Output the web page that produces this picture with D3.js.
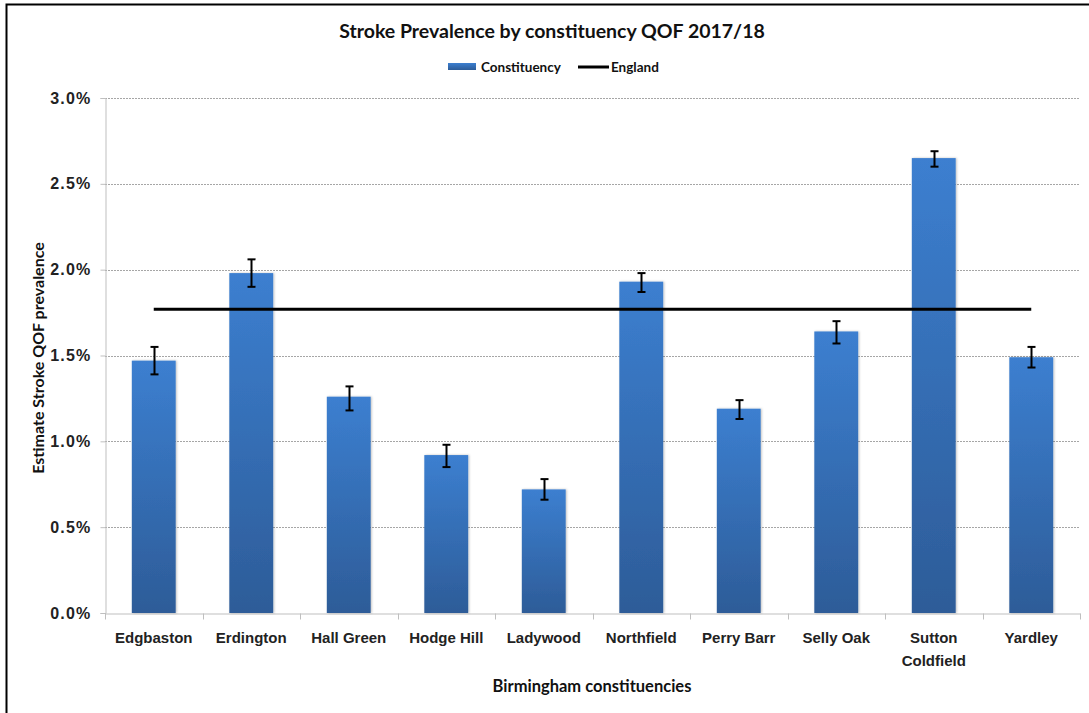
<!DOCTYPE html>
<html>
<head>
<meta charset="utf-8">
<script src="https://cdn.jsdelivr.net/npm/d3@7"></script>
<style>
  body { margin: 0; background: #fff; }
  svg { font-family: Lato, "Open Sans", sans-serif; font-weight: bold; }
</style>
</head>
<body>
<svg id="chart" width="1089" height="713"></svg>
<script>
// Chart data
const constituencies = ["Edgbaston", "Erdington", "Hall Green", "Hodge Hill", "Ladywood",
  "Northfield", "Perry Barr", "Selly Oak", "Sutton Coldfield", "Yardley"];
const prevalence = [1.47, 1.98, 1.26, 0.92, 0.72, 1.93, 1.19, 1.64, 2.65, 1.49];
const lowerCI = [1.39, 1.90, 1.18, 0.85, 0.66, 1.87, 1.13, 1.57, 2.60, 1.43];
const upperCI = [1.55, 2.06, 1.32, 0.98, 0.78, 1.98, 1.24, 1.70, 2.69, 1.55];
const englandValue = 1.77;
const yTicks = [0, 0.5, 1.0, 1.5, 2.0, 2.5, 3.0];

const svg = d3.select("#chart");

// Outer border
svg.append("rect")
  .attr("x", 6.5).attr("y", 4.5)
  .attr("width", 1100).attr("height", 720)
  .attr("fill", "none")
  .attr("stroke", "#000")
  .attr("stroke-width", 2);

const margin = { top: 98, right: 9, bottom: 100, left: 105 };
const width = 1089 - margin.left - margin.right;
const height = 713 - margin.top - margin.bottom;

const g = svg.append("g")
  .attr("transform", `translate(${margin.left}, ${margin.top})`);

// Scales
const xScale = d3.scaleBand()
  .domain(constituencies)
  .range([0, width])
  .paddingInner(0.55)
  .paddingOuter(0.275);

const xBand = d3.scaleBand()
  .domain(constituencies)
  .range([0, width]);

const yScale = d3.scaleLinear()
  .domain([0, 3.0])
  .range([height, 0]);

// Gradient for bars
const defs = svg.append("defs");
const grad = defs.append("linearGradient")
  .attr("id", "barGrad")
  .attr("x1", 0).attr("y1", 0).attr("x2", 0).attr("y2", 1);
grad.append("stop").attr("offset", "0%").attr("stop-color", "#3c7fd0");
grad.append("stop").attr("offset", "100%").attr("stop-color", "#2d5c98");

const shadow = defs.append("filter").attr("id", "shadow")
  .attr("x", "-20%").attr("y", "-5%").attr("width", "140%").attr("height", "110%");
shadow.append("feDropShadow")
  .attr("dx", 1).attr("dy", 0).attr("stdDeviation", 1)
  .attr("flood-color", "#000").attr("flood-opacity", 0.25);

// Gridlines
g.append("g")
  .selectAll("line")
  .data(yTicks.filter((d) => d > 0))
  .enter()
  .append("line")
  .attr("x1", 0).attr("x2", width)
  .attr("y1", (d) => Math.round(yScale(d)) + 0.5)
  .attr("y2", (d) => Math.round(yScale(d)) + 0.5)
  .attr("stroke", "#a6a6a6")
  .attr("stroke-dasharray", "2,1");

// Y axis
const yAxis = g.append("g")
  .attr("transform", "translate(0.5,0)")
  .call(d3.axisLeft(yScale)
    .tickValues(yTicks)
    .tickSize(5)
    .tickPadding(9)
    .tickFormat((d) => d.toFixed(1) + "%"));
yAxis.select(".domain").attr("stroke", "#bfbfbf");
yAxis.selectAll(".tick line").attr("stroke", "#bfbfbf");
yAxis.selectAll("text")
  .attr("fill", "#222")
  .style("font-size", "16px")
  .style("letter-spacing", "1.2px")
  .style("font-weight", "bold");

// X axis
const xAxis = g.append("g")
  .attr("transform", `translate(0, ${height + 0.5})`)
  .call(d3.axisBottom(xBand).tickSize(0).tickPadding(19));
xAxis.select(".domain").attr("stroke", "#bfbfbf");
xAxis.selectAll("text")
  .attr("fill", "#222")
  .style("font-size", "15px")
  .style("font-weight", "bold")
  .each(function (d) {
    const words = d.split(" ");
    if (d === "Sutton Coldfield") {
      const t = d3.select(this);
      t.text(null);
      words.forEach((w, i) => {
        t.append("tspan").attr("x", 0).attr("dy", i === 0 ? "0.71em" : "1.5em").text(w);
      });
    }
  });

// Category separator ticks
xAxis.append("g")
  .selectAll("line")
  .data(constituencies.concat(["end"]))
  .enter()
  .append("line")
  .attr("x1", (d, i) => Math.round(i * xBand.bandwidth()) + 0.5)
  .attr("x2", (d, i) => Math.round(i * xBand.bandwidth()) + 0.5)
  .attr("y1", 0).attr("y2", 6)
  .attr("stroke", "#bfbfbf");

// Bars
g.selectAll(".bar")
  .data(constituencies)
  .enter()
  .append("rect")
  .attr("class", "bar")
  .attr("x", (d) => xScale(d))
  .attr("y", (d, i) => yScale(prevalence[i]))
  .attr("width", xScale.bandwidth())
  .attr("height", (d, i) => height - yScale(prevalence[i]))
  .attr("fill", "url(#barGrad)")
  .attr("filter", "url(#shadow)");

// Error bars
const errG = g.append("g").attr("stroke", "#000").attr("stroke-width", 2);
constituencies.forEach((d, i) => {
  const cx = Math.round(xScale(d) + xScale.bandwidth() / 2) + 0.5;
  errG.append("line")
    .attr("x1", cx).attr("x2", cx)
    .attr("y1", yScale(upperCI[i])).attr("y2", yScale(lowerCI[i]));
  [upperCI[i], lowerCI[i]].forEach((v) => {
    errG.append("line")
      .attr("x1", cx - 4).attr("x2", cx + 4)
      .attr("y1", yScale(v)).attr("y2", yScale(v));
  });
});

// England line
g.append("line")
  .attr("x1", xBand(constituencies[0]) + xBand.bandwidth() / 2)
  .attr("x2", xBand(constituencies[constituencies.length - 1]) + xBand.bandwidth() / 2)
  .attr("y1", yScale(englandValue))
  .attr("y2", yScale(englandValue))
  .attr("stroke", "#000")
  .attr("stroke-width", 3);

// Title
svg.append("text")
  .attr("x", 552).attr("y", 38)
  .attr("text-anchor", "middle")
  .style("font-size", "19.5px")
  .attr("fill", "#111")
  .text("Stroke Prevalence by constituency QOF 2017/18");

// Legend
const legend = svg.append("g").attr("transform", "translate(448, 67)");
legend.append("rect")
  .attr("x", 0).attr("y", -4)
  .attr("width", 28).attr("height", 7)
  .attr("fill", "url(#barGrad)");
legend.append("text")
  .attr("x", 33).attr("y", 5)
  .style("font-size", "13.5px")
  .attr("fill", "#111")
  .text("Constituency");
legend.append("line")
  .attr("x1", 130).attr("x2", 161)
  .attr("y1", 0).attr("y2", 0)
  .attr("stroke", "#000").attr("stroke-width", 3);
legend.append("text")
  .attr("x", 163).attr("y", 5)
  .style("font-size", "13.5px")
  .attr("fill", "#111")
  .text("England");

// Axis titles
svg.append("text")
  .attr("x", 592).attr("y", 692)
  .attr("text-anchor", "middle")
  .style("font-size", "16.5px")
  .attr("fill", "#111")
  .text("Birmingham constituencies");

svg.append("text")
  .attr("transform", "translate(44, 358) rotate(-90)")
  .attr("text-anchor", "middle")
  .style("font-size", "16px")
  .attr("fill", "#111")
  .text("Estimate Stroke QOF prevalence");
</script>
</body>
</html>
